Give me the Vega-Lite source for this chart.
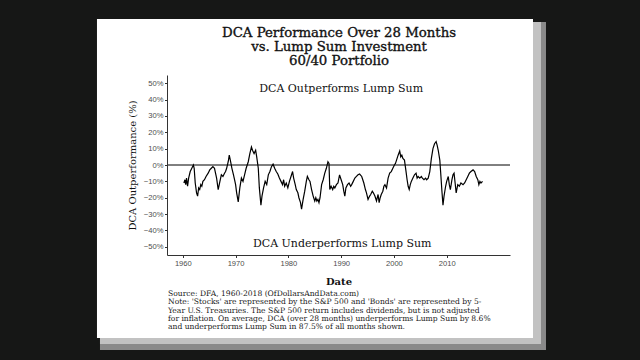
{
  "$schema": "https://vega.github.io/schema/vega-lite/v6.json",
  "width": 343,
  "height": 180,
  "autosize": {"type": "none"},
  "padding": {"left": 167, "top": 75, "right": 130, "bottom": 105},
  "background": "#161716",
  "config": {"view": {"stroke": null}, "axis": {"grid": false, "labelOverlap": false}},
  "datasets": {
    "one": [{}],
    "dca": [
      {"year": 1960.2, "v": -0.11}, {"year": 1960.4, "v": -0.09}, {"year": 1960.55, "v": -0.12}, {"year": 1960.7, "v": -0.08},
      {"year": 1960.9, "v": -0.13}, {"year": 1961.1, "v": -0.08}, {"year": 1961.4, "v": -0.04}, {"year": 1961.7, "v": -0.02},
      {"year": 1962.0, "v": 0.0}, {"year": 1962.15, "v": -0.02}, {"year": 1962.35, "v": -0.11}, {"year": 1962.6, "v": -0.17},
      {"year": 1962.8, "v": -0.19}, {"year": 1963.0, "v": -0.14}, {"year": 1963.2, "v": -0.15}, {"year": 1963.4, "v": -0.12},
      {"year": 1963.6, "v": -0.13}, {"year": 1963.8, "v": -0.10}, {"year": 1964.1, "v": -0.09}, {"year": 1964.4, "v": -0.07},
      {"year": 1964.8, "v": -0.05}, {"year": 1965.1, "v": -0.03}, {"year": 1965.4, "v": -0.02}, {"year": 1965.7, "v": -0.01},
      {"year": 1966.0, "v": -0.02}, {"year": 1966.4, "v": -0.08}, {"year": 1966.7, "v": -0.15}, {"year": 1966.9, "v": -0.12},
      {"year": 1967.1, "v": -0.09}, {"year": 1967.3, "v": -0.06}, {"year": 1967.6, "v": -0.07}, {"year": 1967.9, "v": -0.05},
      {"year": 1968.1, "v": -0.04}, {"year": 1968.3, "v": -0.02}, {"year": 1968.6, "v": 0.02}, {"year": 1968.8, "v": 0.06},
      {"year": 1969.0, "v": 0.03}, {"year": 1969.3, "v": -0.02}, {"year": 1969.6, "v": -0.06}, {"year": 1969.8, "v": -0.09},
      {"year": 1970.0, "v": -0.12}, {"year": 1970.2, "v": -0.17}, {"year": 1970.5, "v": -0.225}, {"year": 1970.8, "v": -0.14},
      {"year": 1971.1, "v": -0.08}, {"year": 1971.4, "v": -0.10}, {"year": 1971.7, "v": -0.06}, {"year": 1972.0, "v": -0.02},
      {"year": 1972.4, "v": 0.02}, {"year": 1972.7, "v": 0.07}, {"year": 1973.0, "v": 0.11}, {"year": 1973.2, "v": 0.09},
      {"year": 1973.5, "v": 0.07}, {"year": 1973.8, "v": 0.09}, {"year": 1974.0, "v": 0.05}, {"year": 1974.3, "v": -0.02},
      {"year": 1974.5, "v": -0.14}, {"year": 1974.8, "v": -0.245}, {"year": 1975.0, "v": -0.19}, {"year": 1975.3, "v": -0.14},
      {"year": 1975.6, "v": -0.10}, {"year": 1975.9, "v": -0.12}, {"year": 1976.2, "v": -0.06}, {"year": 1976.5, "v": -0.04},
      {"year": 1976.8, "v": -0.01}, {"year": 1977.1, "v": 0.005}, {"year": 1977.4, "v": -0.02}, {"year": 1977.7, "v": -0.04},
      {"year": 1978.0, "v": -0.055}, {"year": 1978.3, "v": -0.08}, {"year": 1978.6, "v": -0.10}, {"year": 1978.9, "v": -0.12},
      {"year": 1979.1, "v": -0.09}, {"year": 1979.3, "v": -0.13}, {"year": 1979.6, "v": -0.11}, {"year": 1979.9, "v": -0.14},
      {"year": 1980.2, "v": -0.10}, {"year": 1980.5, "v": -0.07}, {"year": 1980.8, "v": -0.04}, {"year": 1981.0, "v": -0.08},
      {"year": 1981.3, "v": -0.12}, {"year": 1981.5, "v": -0.15}, {"year": 1981.8, "v": -0.17}, {"year": 1982.0, "v": -0.20},
      {"year": 1982.3, "v": -0.23}, {"year": 1982.5, "v": -0.27}, {"year": 1982.8, "v": -0.21}, {"year": 1983.1, "v": -0.16},
      {"year": 1983.4, "v": -0.10}, {"year": 1983.6, "v": -0.07}, {"year": 1983.9, "v": -0.09}, {"year": 1984.1, "v": -0.10},
      {"year": 1984.4, "v": -0.15}, {"year": 1984.7, "v": -0.19}, {"year": 1985.0, "v": -0.22}, {"year": 1985.2, "v": -0.20},
      {"year": 1985.4, "v": -0.22}, {"year": 1985.6, "v": -0.21}, {"year": 1985.8, "v": -0.23}, {"year": 1986.0, "v": -0.20},
      {"year": 1986.3, "v": -0.12}, {"year": 1986.6, "v": -0.09}, {"year": 1986.9, "v": -0.05}, {"year": 1987.2, "v": -0.02},
      {"year": 1987.5, "v": 0.02}, {"year": 1987.7, "v": 0.01}, {"year": 1987.85, "v": -0.15}, {"year": 1988.1, "v": -0.13},
      {"year": 1988.4, "v": -0.15}, {"year": 1988.6, "v": -0.13}, {"year": 1988.8, "v": -0.14}, {"year": 1989.1, "v": -0.12},
      {"year": 1989.4, "v": -0.11}, {"year": 1989.7, "v": -0.06}, {"year": 1990.0, "v": -0.09}, {"year": 1990.3, "v": -0.12},
      {"year": 1990.5, "v": -0.16}, {"year": 1990.7, "v": -0.19}, {"year": 1990.9, "v": -0.14}, {"year": 1991.2, "v": -0.12},
      {"year": 1991.5, "v": -0.11}, {"year": 1991.8, "v": -0.13}, {"year": 1992.0, "v": -0.12}, {"year": 1992.3, "v": -0.10},
      {"year": 1992.6, "v": -0.08}, {"year": 1992.9, "v": -0.07}, {"year": 1993.2, "v": -0.06}, {"year": 1993.5, "v": -0.055},
      {"year": 1993.9, "v": -0.07}, {"year": 1994.1, "v": -0.09}, {"year": 1994.3, "v": -0.11}, {"year": 1994.6, "v": -0.15},
      {"year": 1994.8, "v": -0.17}, {"year": 1995.1, "v": -0.21}, {"year": 1995.4, "v": -0.19}, {"year": 1995.6, "v": -0.18},
      {"year": 1995.9, "v": -0.16}, {"year": 1996.1, "v": -0.17}, {"year": 1996.4, "v": -0.19}, {"year": 1996.7, "v": -0.22},
      {"year": 1997.0, "v": -0.18}, {"year": 1997.2, "v": -0.23}, {"year": 1997.4, "v": -0.20}, {"year": 1997.6, "v": -0.18},
      {"year": 1997.9, "v": -0.16}, {"year": 1998.1, "v": -0.13}, {"year": 1998.3, "v": -0.12}, {"year": 1998.6, "v": -0.14},
      {"year": 1998.9, "v": -0.08}, {"year": 1999.2, "v": -0.05}, {"year": 1999.5, "v": -0.04}, {"year": 1999.8, "v": -0.02},
      {"year": 2000.1, "v": 0.0}, {"year": 2000.3, "v": 0.01}, {"year": 2000.5, "v": 0.03}, {"year": 2000.8, "v": 0.06},
      {"year": 2001.1, "v": 0.086}, {"year": 2001.3, "v": 0.05}, {"year": 2001.5, "v": 0.06}, {"year": 2001.7, "v": 0.04},
      {"year": 2002.0, "v": 0.03}, {"year": 2002.3, "v": -0.04}, {"year": 2002.5, "v": -0.09}, {"year": 2002.7, "v": -0.13},
      {"year": 2002.9, "v": -0.15}, {"year": 2003.1, "v": -0.12}, {"year": 2003.3, "v": -0.10}, {"year": 2003.6, "v": -0.08},
      {"year": 2003.9, "v": -0.06}, {"year": 2004.2, "v": -0.05}, {"year": 2004.4, "v": -0.08}, {"year": 2004.6, "v": -0.07},
      {"year": 2004.9, "v": -0.08}, {"year": 2005.2, "v": -0.07}, {"year": 2005.4, "v": -0.08}, {"year": 2005.7, "v": -0.09},
      {"year": 2006.0, "v": -0.08}, {"year": 2006.2, "v": -0.09}, {"year": 2006.5, "v": -0.08}, {"year": 2006.8, "v": -0.04},
      {"year": 2007.1, "v": 0.04}, {"year": 2007.4, "v": 0.10}, {"year": 2007.7, "v": 0.13}, {"year": 2008.0, "v": 0.143},
      {"year": 2008.2, "v": 0.12}, {"year": 2008.4, "v": 0.09}, {"year": 2008.7, "v": 0.03}, {"year": 2008.85, "v": -0.04},
      {"year": 2009.1, "v": -0.16}, {"year": 2009.3, "v": -0.245}, {"year": 2009.5, "v": -0.19}, {"year": 2009.8, "v": -0.13},
      {"year": 2010.0, "v": -0.10}, {"year": 2010.3, "v": -0.07}, {"year": 2010.5, "v": -0.12}, {"year": 2010.7, "v": -0.15},
      {"year": 2011.0, "v": -0.09}, {"year": 2011.2, "v": -0.06}, {"year": 2011.4, "v": -0.05}, {"year": 2011.6, "v": -0.11},
      {"year": 2011.8, "v": -0.17}, {"year": 2012.1, "v": -0.12}, {"year": 2012.4, "v": -0.13}, {"year": 2012.7, "v": -0.11},
      {"year": 2013.1, "v": -0.12}, {"year": 2013.4, "v": -0.11}, {"year": 2013.7, "v": -0.09}, {"year": 2014.0, "v": -0.07},
      {"year": 2014.3, "v": -0.05}, {"year": 2014.6, "v": -0.04}, {"year": 2015.0, "v": -0.03}, {"year": 2015.3, "v": -0.04},
      {"year": 2015.6, "v": -0.07}, {"year": 2015.9, "v": -0.09}, {"year": 2016.1, "v": -0.12}, {"year": 2016.3, "v": -0.10},
      {"year": 2016.5, "v": -0.11}, {"year": 2016.8, "v": -0.10}
    ]
  },
  "layer": [
    {
      "data": {"name": "one"},
      "mark": {"type": "rect", "color": "#8a8a8a"},
      "encoding": {
        "x": {"datum": 1944.3, "type": "quantitative"},
        "x2": {"datum": 2028.82},
        "y": {"datum": 0.874, "type": "quantitative"},
        "y2": {"datum": -1.1306}
      }
    },
    {
      "data": {"name": "one"},
      "mark": {"type": "rect", "color": "#c2c2c2"},
      "encoding": {
        "x": {"datum": 1944.3, "type": "quantitative"},
        "x2": {"datum": 2027.875},
        "y": {"datum": 0.874, "type": "quantitative"},
        "y2": {"datum": -1.0939}
      }
    },
    {
      "data": {"name": "one"},
      "mark": {"type": "rect", "color": "#ffffff"},
      "encoding": {
        "x": {"datum": 1943.73, "type": "quantitative"},
        "x2": {"datum": 2026.36},
        "y": {"datum": 0.892, "type": "quantitative"},
        "y2": {"datum": -1.0572}
      }
    },
    {
      "data": {"name": "dca"},
      "mark": {"type": "line", "color": "#000000", "strokeWidth": 1.2},
      "encoding": {
        "x": {
          "field": "year", "type": "quantitative",
          "scale": {"domain": [1957, 2022], "nice": false, "zero": false},
          "axis": {
            "title": "Date", "values": [1960, 1970, 1980, 1990, 2000, 2010], "format": "d",
            "labelFont": "Liberation Sans", "labelFontSize": 7.6, "labelColor": "#4d4d4d", "labelOverlap": false,
            "tickSize": 2.5, "tickColor": "#333333", "domainColor": "#333333", "labelPadding": 2,
            "titleFont": "DejaVu Serif", "titleFontSize": 10, "titleFontWeight": "bold", "titleColor": "#111111",
            "titlePadding": 9, "zindex": 1
          }
        },
        "y": {
          "field": "v", "type": "quantitative",
          "scale": {"domain": [-0.55, 0.55], "nice": false, "zero": false},
          "axis": {
            "title": "DCA Outperformance (%)", "values": [-0.5, -0.4, -0.3, -0.2, -0.1, 0, 0.1, 0.2, 0.3, 0.4, 0.5],
            "tickCount": 11, "labelSeparation": 0,
            "format": ".0%", "labelFont": "Liberation Sans", "labelFontSize": 7.6, "labelColor": "#4d4d4d", "labelOverlap": false,
            "tickSize": 2.5, "tickColor": "#333333", "domainColor": "#333333", "labelPadding": 1.5,
            "titleFont": "DejaVu Serif", "titleFontSize": 10, "titleFontWeight": "normal", "titleColor": "#111111",
            "titlePadding": 6, "zindex": 1
          }
        }
      }
    },
    {
      "data": {"name": "one"},
      "mark": {"type": "rule", "color": "#000000", "strokeWidth": 1},
      "encoding": {"y": {"datum": 0, "type": "quantitative"}}
    },
    {
      "data": {"name": "one"},
      "mark": {
        "type": "text",
        "text": ["DCA Performance Over 28 Months", "vs. Lump Sum Investment", "60/40 Portfolio"],
        "font": "DejaVu Serif", "fontSize": 13.3, "lineHeight": 14, "color": "#111111",
        "stroke": "#111111", "strokeWidth": 0.35, "align": "center", "baseline": "alphabetic"
      },
      "encoding": {"x": {"datum": 1989.6, "type": "quantitative"}, "y": {"datum": 0.782, "type": "quantitative"}}
    },
    {
      "data": {"name": "one"},
      "mark": {"type": "text", "text": "DCA Outperforms Lump Sum", "font": "DejaVu Serif", "fontSize": 11, "color": "#111111", "align": "center", "baseline": "middle"},
      "encoding": {"x": {"datum": 1990, "type": "quantitative"}, "y": {"datum": 0.464, "type": "quantitative"}}
    },
    {
      "data": {"name": "one"},
      "mark": {"type": "text", "text": "DCA Underperforms Lump Sum", "font": "DejaVu Serif", "fontSize": 11, "color": "#111111", "align": "center", "baseline": "middle"},
      "encoding": {"x": {"datum": 1990.2, "type": "quantitative"}, "y": {"datum": -0.483, "type": "quantitative"}}
    },
    {
      "data": {"name": "one"},
      "mark": {
        "type": "text",
        "text": [
          "Source:  DFA, 1960-2018 (OfDollarsAndData.com)",
          "Note: 'Stocks' are represented by the S&P 500 and 'Bonds' are represented by 5-",
          "Year U.S. Treasuries. The S&P 500 return includes dividends, but is not adjusted",
          "for inflation. On average, DCA (over 28 months) underperforms Lump Sum by 8.6%",
          "and underperforms Lump Sum in 87.5% of all months shown."
        ],
        "font": "DejaVu Serif", "fontSize": 7.6, "lineHeight": 8.3, "color": "#1a1a1a", "align": "left", "baseline": "top"
      },
      "encoding": {"x": {"datum": 1957.19, "type": "quantitative"}, "y": {"datum": -0.765, "type": "quantitative"}}
    }
  ]
}
